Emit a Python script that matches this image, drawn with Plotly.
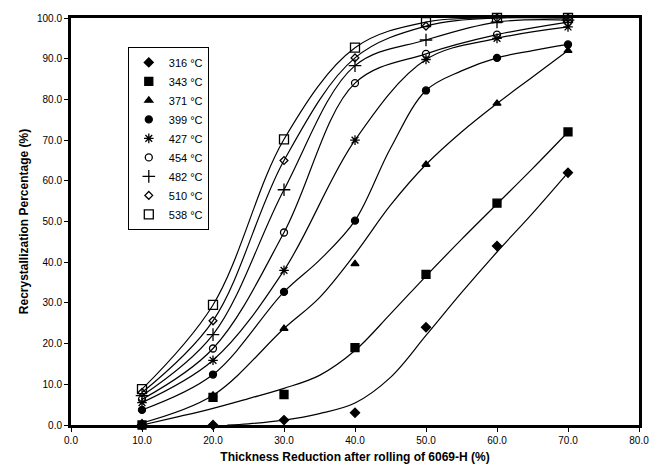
import plotly.graph_objects as go

# Thickness reduction (%) at which samples were measured
reduction = [10, 20, 30, 40, 50, 60, 70]

# Measured recrystallization percentage (%) per annealing temperature
temps = ["316", "343", "371", "399", "427", "454", "482", "510", "538"]
t316 = [0, 0, 1.2, 3.0, 24.0, 44.0, 62.0]
t343 = [0, 6.8, 7.5, 19.0, 37.0, 54.5, 72.0]
t371 = [0.5, 7.3, 23.7, 39.6, 64.0, 79.0, 92.0]
t399 = [3.7, 12.4, 32.7, 50.2, 82.2, 90.2, 93.5]
t427 = [5.5, 15.9, 38.0, 70.0, 89.8, 95.0, 97.8]
t454 = [6.3, 18.8, 47.3, 84.0, 91.2, 95.9, 99.0]
t482 = [7.2, 22.2, 57.8, 88.3, 94.6, 99.0, 99.5]
t510 = [8.0, 25.6, 65.0, 90.2, 98.0, 100.0, 100.0]
t538 = [8.8, 29.5, 70.2, 92.7, 99.0, 100.0, 100.0]

# Fitted trend curves (where they depart from the points)
fit316_x = [22, 25, 30, 35, 40, 45, 50, 55, 60, 65, 70]
fit316_y = [0, 0.3, 1.2, 2.8, 5.4, 11.7, 22.0, 32.5, 42.5, 52.0, 62.0]
fit343_x = [10, 15, 20, 25, 30, 35, 40, 45, 50, 55, 60, 65, 70]
fit343_y = [0, 2.0, 4.1, 6.5, 9.0, 12.2, 18.3, 27.3, 36.6, 45.6, 54.3, 63.0, 72.0]
fit371_x = [10, 20, 30, 35, 40, 45, 50, 55, 60, 65, 70]
fit371_y = [0.5, 7.3, 23.7, 31.3, 42.0, 54.0, 64.0, 72.0, 79.0, 85.5, 92.0]
fit399_x = [10, 20, 30, 35, 40, 45, 50, 55, 60, 65, 70]
fit399_y = [3.7, 12.4, 32.7, 40.5, 50.2, 68.0, 82.2, 87.0, 90.2, 92.0, 93.5]

series = [t316, t343, t371, t399, t427, t454, t482, t510, t538]
symbols = ["diamond", "square", "triangle-up", "circle", "asterisk-open",
           "circle-open", "cross-thin-open", "diamond-open", "square-open"]
sizes = [7, 8, 7, 7, 8, 7, 9, 6, 9]

curves = {
    0: (fit316_x, fit316_y),
    1: (fit343_x, fit343_y),
    2: (fit371_x, fit371_y),
    3: (fit399_x, fit399_y),
}

FONT = "Liberation Sans, Arial, sans-serif"
fig = go.Figure()

for i, ys in enumerate(series):
    cx, cy = curves.get(i, (reduction, ys))
    fig.add_trace(go.Scatter(
        x=cx, y=cy, mode="lines", showlegend=False, hoverinfo="skip",
        line=dict(color="black", width=1.2, shape="spline", smoothing=1.0),
    ))

for i, ys in enumerate(series):
    fig.add_trace(go.Scatter(
        x=reduction, y=ys, mode="markers", name=f"{temps[i]} °C",
        cliponaxis=False,
        marker=dict(symbol=symbols[i], size=sizes[i], color="black",
                    line=dict(color="black", width=1.3)),
    ))

fig.update_layout(
    width=663, height=474,
    margin=dict(l=71, r=24, t=14, b=49),
    paper_bgcolor="white", plot_bgcolor="white",
    font=dict(family=FONT, color="black", size=10),
    legend=dict(
        x=0.1, y=0.929, xanchor="left", yanchor="top",
        bgcolor="white", bordercolor="black", borderwidth=1,
        font=dict(family=FONT, size=11, color="black"),
        itemwidth=30, tracegroupgap=0,
    ),
    xaxis=dict(
        range=[0, 80], dtick=10, tick0=0, tickformat=".1f",
        showline=True, linecolor="black", linewidth=3, mirror=True,
        ticks="outside", ticklen=4, tickcolor="black", tickwidth=1,
        showgrid=False, zeroline=False,
        tickfont=dict(family=FONT, size=10, color="black"),
        title=dict(text="<b>Thickness Reduction after rolling of 6069-H (%)</b>",
                   font=dict(family=FONT, size=12, color="black"), standoff=8),
    ),
    yaxis=dict(
        range=[0, 100], dtick=10, tick0=0, tickformat=".1f",
        showline=True, linecolor="black", linewidth=3, mirror=True,
        ticks="outside", ticklen=4, tickcolor="black", tickwidth=1,
        showgrid=False, zeroline=False,
        tickfont=dict(family=FONT, size=10, color="black"),
        title=dict(text="<b>Recrystallization Percentage (%)</b>",
                   font=dict(family=FONT, size=12, color="black"), standoff=6),
    ),
)

fig.write_html("out.html")
